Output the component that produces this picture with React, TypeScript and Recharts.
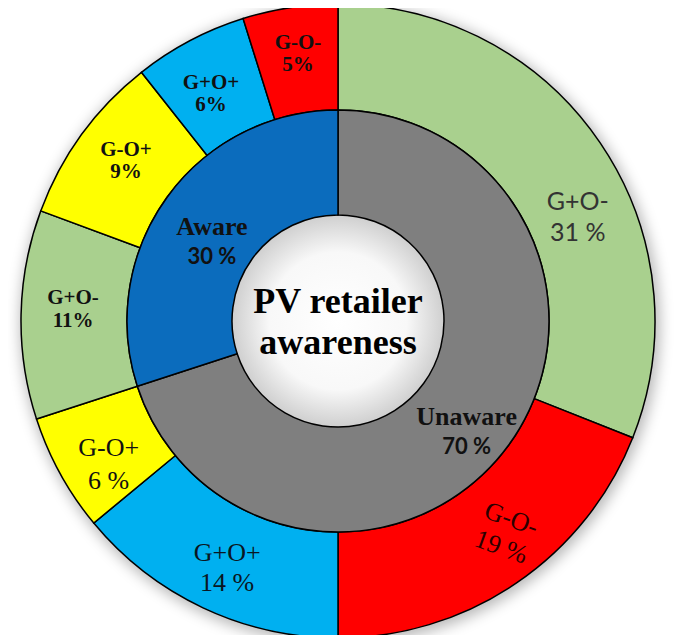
import { Cell, Pie, PieChart } from "recharts";

// inner ring: awareness of PV retailers
const GROUPS = ["Unaware", "Aware"];
const GROUP_VALUES = [70, 30];

// outer ring, split inside each group
const UNAWARE_SEGMENTS = ["G+O-", "G-O-", "G+O+", "G-O+"];
const UNAWARE_VALUES = [31, 19, 14, 6];
const AWARE_SEGMENTS = ["G+O-", "G-O+", "G+O+", "G-O-"];
const AWARE_VALUES = [11, 9, 6, 5];

const TITLE = ["PV retailer", "awareness"];

const W = 685;
const H = 643;
const CX = 338;
const CY = 321;
const R_CENTER = 106;
const R_MID = 211;
const R_OUT = 317;

const SEG_COLORS: Record<string, string> = {
  "G+O-": "#A9D08E",
  "G-O-": "#FF0000",
  "G+O+": "#00B0F0",
  "G-O+": "#FFFF00",
};
const GROUP_COLORS: Record<string, string> = {
  Unaware: "#7F7F7F",
  Aware: "#0B6CBD",
};

const SERIF = "'Liberation Serif', 'Times New Roman', serif";
const SANS = "Lato, 'Open Sans', sans-serif";
const RAD = Math.PI / 180;

type Place = { r: number; shift: number; rotate?: number };
type Look = {
  font: string;
  font2?: string;
  size: number;
  size2?: number;
  weight: number;
  color: string;
  gap: number;
  sep: string;
};

// label placement (radius, clockwise shift from mid angle in degrees)
const UNAWARE_PLACES: Place[] = [
  { r: 258, shift: 12.5 },
  { r: 275, shift: -2.8, rotate: 20 },
  { r: 278, shift: -1.7 },
  { r: 275, shift: -4.7 },
];
const AWARE_PLACES: Place[] = [
  { r: 265, shift: 0 },
  { r: 262, shift: 0 },
  { r: 255, shift: -2 },
  { r: 264, shift: 0 },
];
const GROUP_PLACES: Place[] = [
  { r: 175, shift: 6.7 },
  { r: 145, shift: -6.4 },
];

const UNAWARE_LOOKS: Look[] = [
  { font: SANS, size: 25, weight: 400, color: "#333", gap: 31, sep: " " },
  { font: SERIF, size: 26, weight: 400, color: "#2a0000", gap: 30, sep: " " },
  { font: SERIF, size: 26, weight: 400, color: "#0a1622", gap: 30, sep: " " },
  { font: SERIF, size: 26, weight: 400, color: "#111", gap: 33, sep: " " },
];
const SMALL: Look = { font: SERIF, size: 21, weight: 700, color: "#111", gap: 22.5, sep: "" };
const AWARE_LOOKS: Look[] = [SMALL, SMALL, SMALL, SMALL];
const GROUP_LOOK: Look = {
  font: SERIF,
  font2: SANS,
  size: 26,
  size2: 22,
  weight: 700,
  color: "#111",
  gap: 29.5,
  sep: " ",
};

function makeLabel(names: string[], values: number[], places: Place[], looks: Look[]) {
  return (p: any) => {
    const i = p.index;
    const pl = places[i];
    const lk = looks[i];
    const a = (p.midAngle - pl.shift) * RAD;
    const x = p.cx + pl.r * Math.cos(a);
    const y = p.cy - pl.r * Math.sin(a);
    return (
      <text
        key={`lbl-${names[i]}-${i}`}
        x={x}
        y={y}
        textAnchor="middle"
        fill={lk.color}
        fontFamily={lk.font}
        fontSize={lk.size}
        fontWeight={lk.weight}
        transform={pl.rotate ? `rotate(${pl.rotate} ${x} ${y})` : undefined}
      >
        <tspan x={x} y={y - lk.gap / 2}>
          {names[i]}
        </tspan>
        <tspan
          x={x}
          y={y + lk.gap / 2}
          fontFamily={lk.font2 ?? lk.font}
          fontSize={lk.size2 ?? lk.size}
        >
          {`${values[i]}${lk.sep}%`}
        </tspan>
      </text>
    );
  };
}

function titleLabel(p: any) {
  return (
    <text
      key="title"
      x={p.cx}
      y={p.cy}
      textAnchor="middle"
      fontFamily={SERIF}
      fontWeight={700}
      fontSize={36}
      fill="#000"
    >
      <tspan x={p.cx} y={p.cy - 8}>
        {TITLE[0]}
      </tspan>
      <tspan x={p.cx} y={p.cy + 33}>
        {TITLE[1]}
      </tspan>
    </text>
  );
}

export default function App() {
  const groupData = GROUPS.map((name, i) => ({ name, value: GROUP_VALUES[i] }));
  const unawareData = UNAWARE_SEGMENTS.map((name, i) => ({ name, value: UNAWARE_VALUES[i] }));
  const awareData = AWARE_SEGMENTS.map((name, i) => ({ name, value: AWARE_VALUES[i] }));

  const total = GROUP_VALUES.reduce((s, v) => s + v, 0);
  const split = 90 - (360 * GROUP_VALUES[0]) / total;

  return (
    <div style={{ position: "relative", width: W, height: H, margin: -8, background: "#fff" }}>
      <div
        style={{
          position: "absolute",
          left: CX - R_OUT,
          top: CY - R_OUT,
          width: R_OUT * 2,
          height: R_OUT * 2,
          borderRadius: "50%",
          boxShadow: "2px 3px 14px 3px rgba(0,0,0,0.28)",
        }}
      />
      <div style={{ position: "absolute", left: 0, top: 0 }}>
        <PieChart width={W} height={H} margin={{ top: 0, right: 0, bottom: 0, left: 0 }}>
          <defs>
            <radialGradient id="centerFill" cx="50%" cy="50%" r="50%">
              <stop offset="0%" stopColor="#ffffff" />
              <stop offset="65%" stopColor="#f8f8f8" />
              <stop offset="100%" stopColor="#cfcfcf" />
            </radialGradient>
          </defs>
          <Pie
            data={[{ name: "title", value: 1 }]}
            dataKey="value"
            cx={CX}
            cy={CY}
            innerRadius={0}
            outerRadius={R_CENTER}
            fill="url(#centerFill)"
            stroke="none"
            label={titleLabel}
            labelLine={false}
            isAnimationActive={false}
          />
          <Pie
            data={unawareData}
            dataKey="value"
            nameKey="name"
            cx={CX}
            cy={CY}
            innerRadius={R_MID}
            outerRadius={R_OUT}
            startAngle={90}
            endAngle={split}
            stroke="#000"
            strokeWidth={1.5}
            label={makeLabel(UNAWARE_SEGMENTS, UNAWARE_VALUES, UNAWARE_PLACES, UNAWARE_LOOKS)}
            labelLine={false}
            isAnimationActive={false}
          >
            {unawareData.map((d, i) => (
              <Cell key={`u-${i}`} fill={SEG_COLORS[d.name]} />
            ))}
          </Pie>
          <Pie
            data={awareData}
            dataKey="value"
            nameKey="name"
            cx={CX}
            cy={CY}
            innerRadius={R_MID}
            outerRadius={R_OUT}
            startAngle={split}
            endAngle={-270}
            stroke="#000"
            strokeWidth={1.5}
            label={makeLabel(AWARE_SEGMENTS, AWARE_VALUES, AWARE_PLACES, AWARE_LOOKS)}
            labelLine={false}
            isAnimationActive={false}
          >
            {awareData.map((d, i) => (
              <Cell key={`a-${i}`} fill={SEG_COLORS[d.name]} />
            ))}
          </Pie>
          <Pie
            data={groupData}
            dataKey="value"
            nameKey="name"
            cx={CX}
            cy={CY}
            innerRadius={R_CENTER}
            outerRadius={R_MID}
            startAngle={90}
            endAngle={-270}
            stroke="#000"
            strokeWidth={1.5}
            label={makeLabel(GROUPS, GROUP_VALUES, GROUP_PLACES, [GROUP_LOOK, GROUP_LOOK])}
            labelLine={false}
            isAnimationActive={false}
          >
            {groupData.map((d, i) => (
              <Cell key={`g-${i}`} fill={GROUP_COLORS[d.name]} />
            ))}
          </Pie>
        </PieChart>
      </div>
    </div>
  );
}
